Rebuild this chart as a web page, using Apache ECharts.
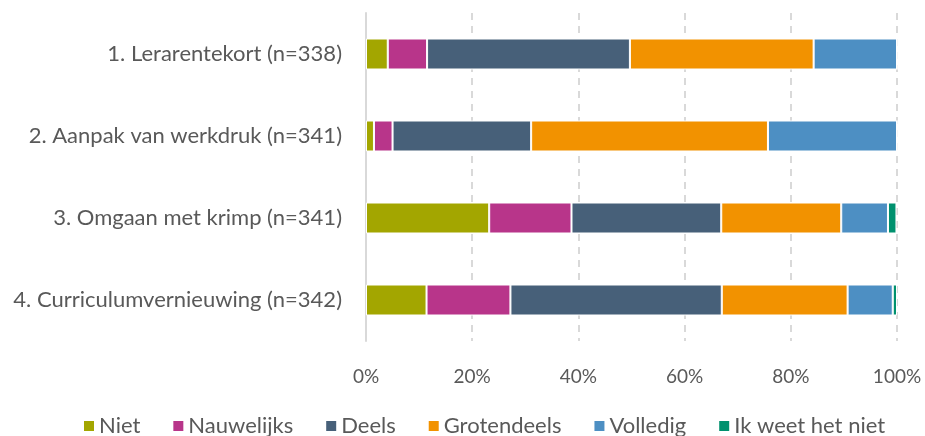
<!DOCTYPE html>
<html>
<head>
<meta charset="utf-8">
<script src="https://cdn.jsdelivr.net/npm/echarts@6/dist/echarts.min.js"></script>
<style>html,body{margin:0;padding:0;background:#fff}#c{width:925px;height:436px}</style>
</head>
<body>
<div id="c"></div>
<script>
const categories = ["1. Lerarentekort (n=338)", "2. Aanpak van werkdruk (n=341)", "3. Omgaan met krimp (n=341)", "4. Curriculumvernieuwing (n=342)"];
const seriesNames = ["Niet", "Nauwelijks", "Deels", "Grotendeels", "Volledig", "Ik weet het niet"];
const niet = [4.1, 1.5, 23.2, 11.4];
const nauwelijks = [7.4, 3.5, 15.5, 15.8];
const deels = [38.2, 26.1, 28.2, 39.8];
const grotendeels = [34.6, 44.6, 22.6, 23.7];
const volledig = [15.7, 24.3, 8.8, 8.5];
const ikWeetHetNiet = [0, 0, 1.6, 0.8];
const xTicks = [0, 20, 40, 60, 80, 100];
const colors = ["#A3A600", "#B8358A", "#476079", "#F29200", "#4D8FC3", "#00916E"];

const values = [niet, nauwelijks, deels, grotendeels, volledig, ikWeetHetNiet];
const FONT = "Lato";
const chart = echarts.init(document.getElementById('c'), null, {renderer: 'canvas'});
chart.setOption({
  animation: false,
  textStyle: {fontFamily: FONT},
  grid: {left: 366, right: 28, top: 13, bottom: 95, containLabel: false},
  legend: {
    top: 410, left: 77,
    itemWidth: 12, itemHeight: 12, itemGap: 31,
    icon: 'rect',
    textStyle: {fontFamily: FONT, fontSize: 22, color: '#595959', padding: [0, 0, 0, -1]},
    data: seriesNames
  },
  xAxis: {
    type: 'value', min: xTicks[0], max: xTicks[xTicks.length - 1], interval: 20,
    axisLine: {show: false}, axisTick: {show: false},
    axisLabel: {formatter: v => v + '%', fontFamily: FONT, fontSize: 19, color: '#595959', margin: 26},
    splitLine: {show: true, lineStyle: {color: '#d9d9d9', width: 2, type: [7, 6]}}
  },
  yAxis: {
    type: 'category', data: categories, inverse: true,
    axisLine: {show: true, lineStyle: {color: '#d9d9d9', width: 2}},
    axisTick: {show: false},
    axisLabel: {fontFamily: FONT, fontSize: 22, color: '#595959', margin: 24}
  },
  series: seriesNames.map((n, i) => ({
    name: n, type: 'bar', stack: 'total', data: values[i],
    barWidth: 31,
    itemStyle: {color: colors[i], borderColor: '#ffffff', borderWidth: 1}
  }))
});
</script>
</body>
</html>
